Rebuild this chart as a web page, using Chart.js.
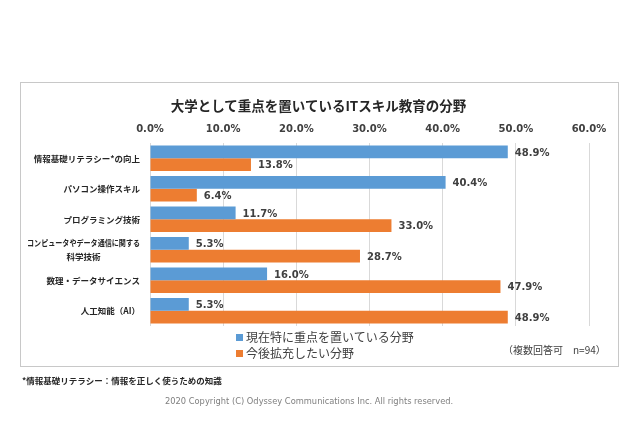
<!DOCTYPE html>
<html>
<head>
<meta charset="utf-8">
<script src="https://cdn.jsdelivr.net/npm/chart.js@4"></script>
<style>
    body { margin: 0; background: #fff; }
    #page { position: relative; width: 640px; height: 426px; overflow: hidden; font-family: "Noto Sans CJK JP", sans-serif; color: #262626; }
    #frame { position: absolute; left: 20px; top: 82px; width: 597px; height: 283px; border: 1px solid #c8c8c8; }
    #chart { position: absolute; left: 0; top: 0; }
    .txt { position: absolute; white-space: nowrap; }
    #title { left: 0; width: 637px; top: 95px; text-align: center; font-size: 13.5px; font-weight: bold; }
    .legend-item { left: 236px; font-size: 12px; color: #404040; line-height: 14px; }
    .legend-item i { display: inline-block; width: 7px; height: 7px; margin-right: 3px; vertical-align: 1px; }
    #note { left: 503px; top: 342px; font-size: 10px; color: #404040; }
    #footnote { left: 22px; top: 374px; font-size: 8.5px; font-weight: bold; color: #262626; }
    #copyright { left: 165px; top: 396px; font-family: "DejaVu Sans", sans-serif; font-size: 8.3px; color: #7f7f7f; }
</style>
</head>
<body>
<div id="page">
    <div id="frame"></div>
    <canvas id="chart" width="640" height="426"></canvas>
    <div id="title" class="txt">大学として重点を置いているITスキル教育の分野</div>
    <div id="legend-now" class="txt legend-item" style="top:330px"><i style="background:#5B9BD5"></i>現在特に重点を置いている分野</div>
    <div id="legend-future" class="txt legend-item" style="top:346px"><i style="background:#ED7D31"></i>今後拡充したい分野</div>
    <div id="note" class="txt">（複数回答可　n=94）</div>
    <div id="footnote" class="txt">*情報基礎リテラシー：情報を正しく使うための知識</div>
    <div id="copyright" class="txt">2020 Copyright (C) Odyssey Communications Inc. All rights reserved.</div>
</div>
<script>
// Data
const categories = [
    '情報基礎リテラシー*の向上',
    'パソコン操作スキル',
    'プログラミング技術',
    ['コンピュータやデータ通信に関する', '科学技術'],
    '数理・データサイエンス',
    '人工知能（AI）'
];
const seriesNames = ['現在特に重点を置いている分野', '今後拡充したい分野'];
const currentFocus = [48.9, 40.4, 11.7, 5.3, 16.0, 5.3];
const futureExpand = [13.8, 6.4, 33.0, 28.7, 47.9, 48.9];
const axisMax = 60;
const axisStep = 10;

const numFont = '"DejaVu Sans", sans-serif';
const jpFont = '"Noto Sans CJK JP", sans-serif';

// Value labels at the end of each bar
const valueLabels = {
    id: 'valueLabels',
    afterDatasetsDraw(chart) {
        const ctx = chart.ctx;
        ctx.save();
        ctx.font = 'bold 10px ' + numFont;
        ctx.fillStyle = '#404040';
        ctx.textAlign = 'left';
        ctx.textBaseline = 'middle';
        chart.data.datasets.forEach((ds, i) => {
            chart.getDatasetMeta(i).data.forEach((bar, j) => {
                ctx.fillText(ds.data[j].toFixed(1) + '%', bar.x + 7, bar.y + 1);
            });
        });
        ctx.restore();
    }
};

// Category labels: right aligned, long lines squeezed like the original,
// extra lines centred under the first one
const categoryLabels = {
    id: 'categoryLabels',
    afterDraw(chart) {
        const ctx = chart.ctx;
        const scale = chart.scales.y;
        const right = scale.right - 10;
        const maxW = 113;
        const lineH = 14;
        ctx.save();
        ctx.font = 'bold 8.5px ' + jpFont;
        ctx.fillStyle = '#262626';
        ctx.textAlign = 'center';
        ctx.textBaseline = 'middle';
        scale.ticks.forEach((t, i) => {
            const lines = [].concat(categories[i]);
            const widths = lines.map(l => Math.min(ctx.measureText(l).width, maxW));
            const cx = right - Math.max(...widths) / 2;
            const y0 = scale.getPixelForTick(i) - (lines.length - 1) * lineH / 2;
            lines.forEach((l, k) => {
                ctx.fillText(l, cx, y0 + k * lineH + 0.5, maxW);
            });
        });
        ctx.restore();
    }
};

new Chart(document.getElementById('chart'), {
    type: 'bar',
    data: {
        labels: categories,
        datasets: [
            { label: seriesNames[0], data: currentFocus, backgroundColor: '#5B9BD5' },
            { label: seriesNames[1], data: futureExpand, backgroundColor: '#ED7D31' }
        ]
    },
    options: {
        indexAxis: 'y',
        responsive: false,
        animation: false,
        layout: { padding: { left: 20, right: 51, top: 116, bottom: 100 } },
        categoryPercentage: 0.83,
        barPercentage: 1,
        scales: {
            x: {
                position: 'top',
                min: 0,
                max: axisMax,
                afterFit: s => { s.height = 27; },
                ticks: {
                    stepSize: axisStep,
                    padding: 8,
                    color: '#404040',
                    font: { family: numFont, size: 10, weight: 'bold' },
                    callback: v => v.toFixed(1) + '%'
                },
                grid: { color: '#d9d9d9', drawTicks: false },
                border: { display: false }
            },
            y: {
                afterFit: s => { s.width = 130; },
                ticks: { display: false },
                grid: { display: false },
                border: { display: false }
            }
        },
        plugins: {
            legend: { display: false },
            tooltip: { enabled: false }
        }
    },
    plugins: [valueLabels, categoryLabels]
});
</script>
</body>
</html>
